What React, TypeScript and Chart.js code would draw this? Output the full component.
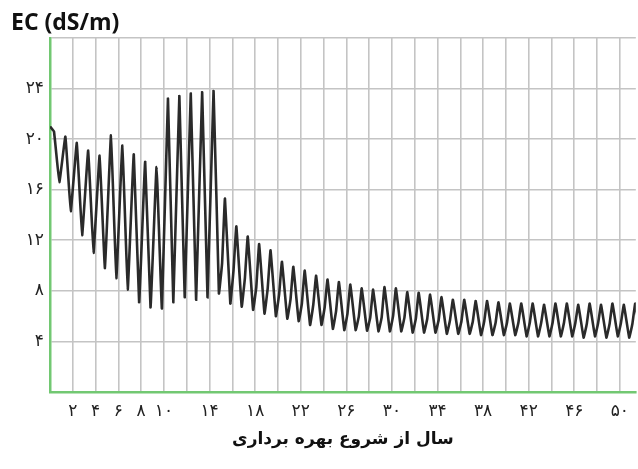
import React, { useEffect, useRef } from 'react';
import { Chart, registerables } from 'chart.js';

Chart.register(...registerables);

// EC value at the very start of the record (year 0)
const startEC = 21.0;

// Yearly peak EC values (one per year, k = 0..51)
const peakEC = [
  20.6, 20.2, 19.7, 19.1, 18.7, 20.3, 19.5, 18.8, 18.2, 17.8,
  23.2, 23.4, 23.6, 23.7, 23.8, 15.3, 13.1, 12.3, 11.7, 11.2,
  10.3, 9.9, 9.6, 9.2, 8.9, 8.7, 8.5, 8.2, 8.1, 8.3,
  8.2, 7.9, 7.85, 7.7, 7.5, 7.3, 7.3, 7.2, 7.2, 7.1,
  7.0, 7.0, 7.0, 6.9, 7.0, 7.0, 6.9, 7.0, 6.9, 7.0,
  6.9, 7.0,
];

// Yearly trough EC values (after each peak)
const troughEC = [
  16.6, 14.3, 12.4, 11.0, 9.8, 9.0, 8.1, 7.1, 6.7, 6.6,
  7.1, 7.5, 7.3, 7.5, 7.8, 7.0, 6.75, 6.5, 6.2, 6.0,
  5.8, 5.6, 5.3, 5.3, 5.0, 4.9, 4.9, 4.85, 4.8, 4.8,
  4.8, 4.7, 4.7, 4.7, 4.6, 4.6, 4.6, 4.5, 4.5, 4.5,
  4.5, 4.4, 4.4, 4.4, 4.4, 4.4, 4.3, 4.4, 4.3, 4.4,
  4.3, 4.3,
];

// Shoulder on the rising limb (visible from year 14 on)
const shoulderEC: (number | null)[] = [
  null, null, null, null, null, null, null, null, null, null,
  null, null, null, null, 10.2, 9.6, 9.0, 8.3, 8.2, 7.7,
  7.3, 7.0, 6.9, 6.7, 6.4, 6.2, 6.0, 5.9, 5.9, 6.0,
  5.9, 5.8, 5.8, 5.7, 5.7, 5.6, 5.6, 5.6, 5.5, 5.5,
  5.5, 5.5, 5.5, 5.5, 5.5, 5.5, 5.4, 5.5, 5.4, 5.5,
  5.4, null,
];

// Position of each feature inside its year
const peakOffset = 0.35;
const troughOffset = 0.82;
const shoulderOffset = 1.1;

const xGridYears = [0, 2, 4, 6, 8, 10, 12, 14, 16, 18, 20, 22, 24, 26, 28, 30, 32, 34, 36, 38, 40, 42, 44, 46, 48, 50];
const xTickYears = [2, 4, 6, 8, 10, 14, 18, 22, 26, 30, 34, 38, 42, 46, 50];
const xTickLabels = ['۲', '۴', '۶', '۸', '۱۰', '۱۴', '۱۸', '۲۲', '۲۶', '۳۰', '۳۴', '۳۸', '۴۲', '۴۶', '۵۰'];
const yTickValues = [4, 8, 12, 16, 20, 24];
const yTickLabels = ['۴', '۸', '۱۲', '۱۶', '۲۰', '۲۴'];

const yTitle = 'EC (dS/m)';
const xTitle = 'سال از شروع بهره برداری';

function buildPoints() {
  const pts: { x: number; y: number }[] = [{ x: 0, y: startEC }];
  for (let k = 0; k < peakEC.length; k++) {
    pts.push({ x: k + peakOffset, y: peakEC[k] });
    pts.push({ x: k + troughOffset, y: troughEC[k] });
    const s = shoulderEC[k];
    if (s !== null && s !== undefined) pts.push({ x: k + shoulderOffset, y: s });
  }
  return pts;
}

const yTitlePlugin = {
  id: 'yTitleTop',
  afterDraw(chart: any) {
    const ctx = chart.ctx;
    ctx.save();
    ctx.font = 'bold 23px "Open Sans"';
    ctx.fillStyle = '#111';
    ctx.textAlign = 'left';
    ctx.textBaseline = 'alphabetic';
    ctx.fillText(yTitle, 11, 30);
    ctx.restore();
  },
};

export default function App() {
  const ref = useRef<HTMLCanvasElement | null>(null);

  useEffect(() => {
    if (!ref.current) return;
    const green = '#72c872';
    const grid = '#c4c4c4';
    const chart = new Chart(ref.current, {
      type: 'line',
      data: {
        datasets: [
          {
            data: buildPoints(),
            borderColor: '#2a2a2a',
            borderWidth: 2.6,
            pointRadius: 0,
            tension: 0.08,
            fill: false,
          },
        ],
      },
      options: {
        responsive: false,
        animation: false,
        layout: { padding: { top: 38, left: 0, right: 0, bottom: 0 } },
        plugins: { legend: { display: false }, tooltip: { enabled: false }, title: { display: false } },
        scales: {
          x: {
            type: 'linear',
            min: 0,
            max: 51.4,
            afterBuildTicks: (scale: any) => {
              scale.ticks = xGridYears.map((v) => ({ value: v }));
            },
            afterFit: (scale: any) => {
              scale.height = 77;
            },
            ticks: {
              autoSkip: false,
              maxRotation: 0,
              padding: 9,
              color: '#222',
              font: { family: '"DejaVu Sans"', size: 17 },
              callback: (v: any) => {
                const i = xTickYears.indexOf(Number(v));
                return i >= 0 ? xTickLabels[i] : '';
              },
            },
            grid: { color: grid, lineWidth: 1.6, drawTicks: false },
            border: { color: green, width: 2.5 },
            title: {
              display: true,
              text: xTitle,
              color: '#111',
              font: { family: '"DejaVu Sans"', size: 17, weight: 'bold' },
              padding: { top: 4, bottom: 19 },
            },
          },
          y: {
            type: 'linear',
            min: 0,
            max: 28,
            afterFit: (scale: any) => {
              scale.width = 50;
            },
            ticks: {
              stepSize: 4,
              padding: 6,
              color: '#222',
              font: { family: '"DejaVu Sans"', size: 17 },
              callback: (v: any) => {
                const i = yTickValues.indexOf(Number(v));
                return i >= 0 ? yTickLabels[i] : '';
              },
            },
            grid: { color: grid, lineWidth: 1.6, drawTicks: false },
            border: { color: green, width: 2.5 },
          },
        },
      },
      plugins: [yTitlePlugin],
    });
    return () => chart.destroy();
  }, []);

  return (
    <div style={{ position: 'absolute', left: 0, top: 0, width: 638, height: 469, background: '#fff' }}>
      <canvas ref={ref} width={638} height={469} style={{ display: 'block' }} />
    </div>
  );
}
